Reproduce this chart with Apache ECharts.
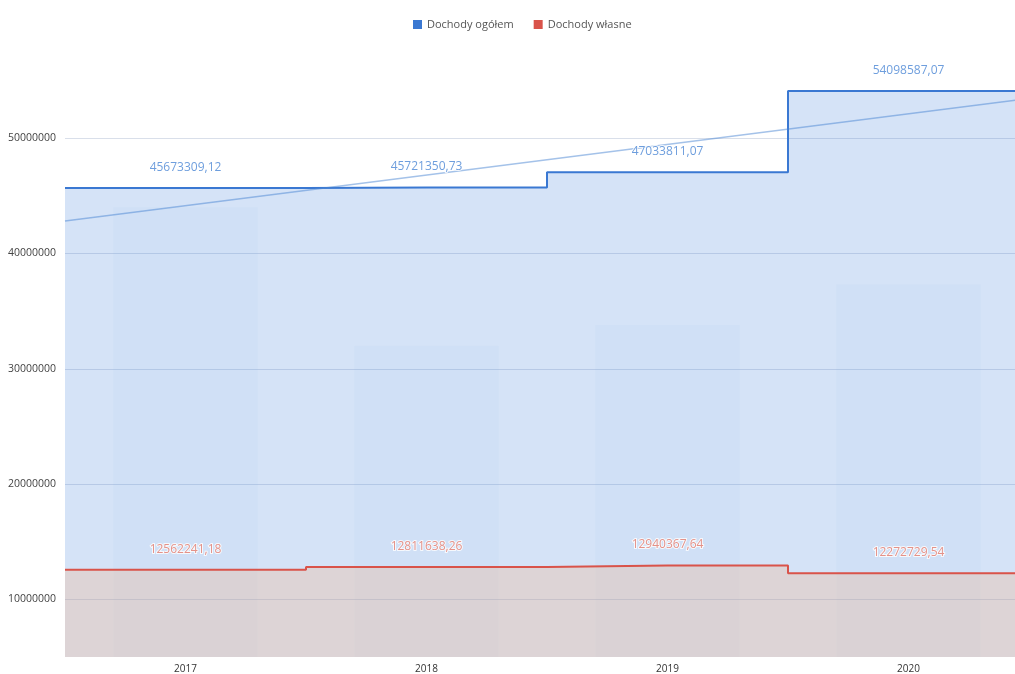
<!DOCTYPE html>
<html>
<head>
<meta charset="utf-8">
<script src="https://cdn.jsdelivr.net/npm/echarts@6/dist/echarts.min.js"></script>
<style>
html,body{margin:0;padding:0;background:#fff;overflow:hidden;width:1015px;height:674px;}
#chart{width:1029px;height:674px;}
</style>
</head>
<body>
<div id="chart"></div>
<script>
// ---- data ----
const years = ['2017', '2018', '2019', '2020'];
const dochodyOgolem = [45673309.12, 45721350.73, 47033811.07, 54098587.07];
const dochodyWlasne = [12562241.18, 12811638.26, 12940367.64, 12272729.54];
const faintBars = [44000000, 32000000, 33800000, 37300000];
const yTicks = [10000000, 20000000, 30000000, 40000000, 50000000];

// ---- helpers ----
const FONT = '"Open Sans", "Noto Sans", sans-serif';
function fmt(v) { return v.toFixed(2).replace('.', ','); }
function stepData(vals) {
  const n = vals.length;
  const out = [[-0.5, vals[0]]];
  vals.forEach((v, i) => out.push([i, v]));
  out.push([n - 0.5, vals[n - 1]]);
  return out;
}
function trend(vals) {
  const n = vals.length;
  const mx = (n - 1) / 2;
  const my = vals.reduce((a, b) => a + b, 0) / n;
  let sxy = 0, sxx = 0;
  vals.forEach((v, i) => { sxy += (i - mx) * (v - my); sxx += (i - mx) * (i - mx); });
  const b = sxy / sxx, a = my - b * mx;
  return [[-0.5, a + b * -0.5], [n - 0.5, a + b * (n - 0.5)]];
}

const BLUE = '#3a78d2';
const RED = '#d9534a';

const chart = echarts.init(document.getElementById('chart'));
chart.setOption({
  animation: false,
  textStyle: { fontFamily: FONT },
  legend: {
    data: ['Dochody ogółem', 'Dochody własne'],
    top: 14,
    left: 408,
    icon: 'rect',
    itemWidth: 9,
    itemHeight: 9,
    itemGap: 20,
    textStyle: { fontSize: 11, color: '#555', fontFamily: FONT }
  },
  grid: { left: 65, right: 0, top: 69, bottom: 17 },
  xAxis: [
    {
      type: 'category',
      data: years,
      boundaryGap: true,
      axisLine: { show: false },
      axisTick: { show: false },
      axisLabel: { margin: 7, fontSize: 10, color: '#333', fontFamily: FONT }
    },
    {
      type: 'value',
      min: -0.5,
      max: years.length - 0.5,
      show: false
    }
  ],
  yAxis: {
    type: 'value',
    min: 5000000,
    max: 56000000,
    axisLine: { show: false },
    axisTick: { show: false, customValues: yTicks },
    axisLabel: {
      customValues: yTicks, fontSize: 10.5, color: '#444', margin: 9, fontFamily: FONT,
      formatter: v => String(v)
    },
    splitLine: { show: true, lineStyle: { color: 'rgba(80,110,160,0.22)', width: 1 } }
  },
  series: [
    {
      name: 'bars',
      type: 'bar',
      xAxisIndex: 0,
      data: faintBars,
      barWidth: '60%',
      silent: true,
      z: 1,
      itemStyle: { color: 'rgba(59,125,216,0.03)' }
    },
    {
      name: 'Dochody ogółem',
      type: 'line',
      xAxisIndex: 1,
      step: 'middle',
      data: stepData(dochodyOgolem),
      symbol: 'none',
      z: 2,
      itemStyle: { color: BLUE },
      lineStyle: { color: BLUE, width: 2 },
      areaStyle: { color: 'rgba(59,125,216,0.3)' }
    },
    {
      name: 'Dochody własne',
      type: 'line',
      xAxisIndex: 1,
      step: 'middle',
      data: stepData(dochodyWlasne),
      symbol: 'none',
      z: 3,
      itemStyle: { color: RED },
      lineStyle: { color: RED, width: 2 },
      areaStyle: { color: 'rgba(245,175,130,0.4)' }
    },
    {
      name: 'trend',
      type: 'line',
      xAxisIndex: 1,
      data: trend(dochodyOgolem),
      symbol: 'none',
      silent: true,
      z: 4,
      lineStyle: { color: 'rgba(74,134,212,0.5)', width: 1.5 }
    },
    {
      name: 'labelsOgolem',
      type: 'scatter',
      xAxisIndex: 0,
      data: dochodyOgolem,
      symbolSize: 1,
      silent: true,
      z: 5,
      itemStyle: { color: 'rgba(0,0,0,0)' },
      label: {
        show: true, position: 'top', distance: 14,
        formatter: p => fmt(p.value),
        color: '#4a86d4', fontSize: 12, fontFamily: FONT,
        textBorderColor: '#fff', textBorderWidth: 2
      }
    },
    {
      name: 'labelsWlasne',
      type: 'scatter',
      xAxisIndex: 0,
      data: dochodyWlasne,
      symbolSize: 1,
      silent: true,
      z: 5,
      itemStyle: { color: 'rgba(0,0,0,0)' },
      label: {
        show: true, position: 'top', distance: 14,
        formatter: p => fmt(p.value),
        color: '#e0786c', fontSize: 12, fontFamily: FONT,
        textBorderColor: '#fff', textBorderWidth: 2
      }
    }
  ]
});
</script>
</body>
</html>
